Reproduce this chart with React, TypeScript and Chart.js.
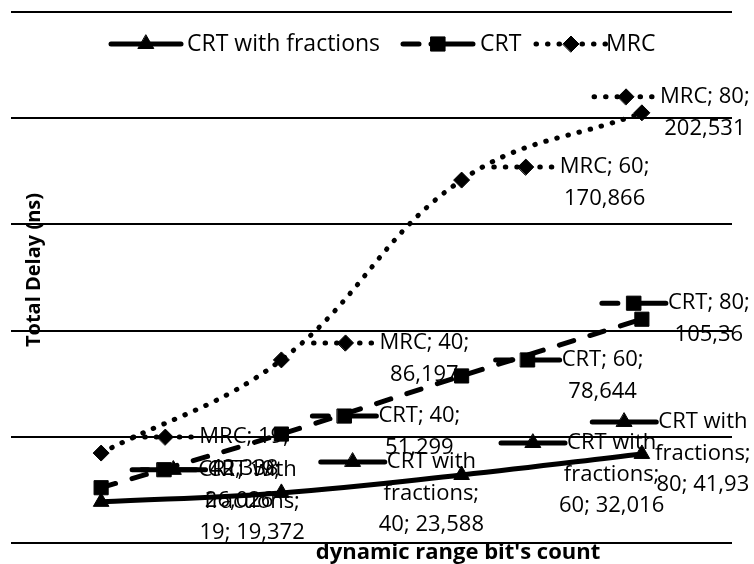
import React, { useEffect, useRef } from "react";
import { Chart, registerables } from "chart.js";

Chart.register(...registerables);

// Dynamic range bit counts (x categories)
const categories = ["19", "40", "60", "80"];

// Total delay in ns for each method
const crtFractionsDelay = [19.372, 23.588, 32.016, 41.93];
const crtDelay = [26.026, 51.299, 78.644, 105.36];
const mrcDelay = [42.338, 86.197, 170.866, 202.531];

const seriesNames = ["CRT with fractions", "CRT", "MRC"];

// Value axis range and grid step (ns)
const yMin = 0;
const yMax = 250;
const yStep = 50;

const xTitle = "dynamic range bit's count";
const yTitle = "Total Delay (ns)";

const seriesValues = [crtFractionsDelay, crtDelay, mrcDelay];

// ---- layout and style ----
const FONT = '"Open Sans", "DejaVu Sans", sans-serif';
const LABEL_PX = 22;
const LINE_H = 31.5;
const KEY_W = 64;
const WRAP_W = 125;

// data label text block: [centre dx, first line dy] from its point
const labelPlacement = [
  [[151, -32], [150, -31], [150, -32], [61, -32]],
  [[138, -18], [138, -18], [141, -16], [67, -16]],
  [[143, -16], [143, -17], [143, -13], [63, -16]],
];

// legend entries: [key start x, text start x]
const legendSlots = [
  [111, 187],
  [403, 480],
  [536, 606],
];
const LEGEND_Y = 44;

const seriesStyles = [
  { dash: [] as number[], keyDash: [] as number[], marker: "triangle", radius: 9, width: 5 },
  { dash: [15, 17], keyDash: [16, 12, 80], marker: "rect", radius: 10, width: 5 },
  { dash: [0.5, 11], keyDash: [0.5, 11], marker: "rectRot", radius: 8, width: 5 },
];

const fmt = (v: number) => String(v).replace(".", ",");

function drawMarker(ctx: CanvasRenderingContext2D, style: string, r: number, x: number, y: number) {
  ctx.beginPath();
  if (style === "triangle") {
    let rad = 0;
    ctx.moveTo(x + Math.sin(rad) * r, y - Math.cos(rad) * r);
    rad += (2 * Math.PI) / 3;
    ctx.lineTo(x + Math.sin(rad) * r, y - Math.cos(rad) * r);
    rad += (2 * Math.PI) / 3;
    ctx.lineTo(x + Math.sin(rad) * r, y - Math.cos(rad) * r);
    ctx.closePath();
  } else if (style === "rect") {
    const s = Math.SQRT1_2 * r;
    ctx.rect(x - s, y - s, 2 * s, 2 * s);
  } else {
    ctx.moveTo(x - r, y);
    ctx.lineTo(x, y - r);
    ctx.lineTo(x + r, y);
    ctx.lineTo(x, y + r);
    ctx.closePath();
  }
  ctx.fillStyle = "#000";
  ctx.fill();
  ctx.lineWidth = 1;
  ctx.strokeStyle = "#000";
  ctx.stroke();
}

function drawKey(ctx: CanvasRenderingContext2D, si: number, x1: number, x2: number, y: number) {
  const st = seriesStyles[si];
  ctx.save();
  ctx.strokeStyle = "#000";
  ctx.lineWidth = st.width;
  ctx.lineCap = "round";
  ctx.setLineDash(st.keyDash);
  ctx.beginPath();
  ctx.moveTo(x1, y);
  ctx.lineTo(x2, y);
  ctx.stroke();
  ctx.setLineDash([]);
  drawMarker(ctx, st.marker, st.radius, (x1 + x2) / 2, y);
  ctx.restore();
}

function wrap(ctx: CanvasRenderingContext2D, text: string, maxW: number) {
  const words = text.split(" ");
  const lines: string[] = [];
  let cur = "";
  for (const w of words) {
    const t = cur ? cur + " " + w : w;
    if (cur && ctx.measureText(t).width > maxW) {
      lines.push(cur);
      cur = w;
    } else cur = t;
  }
  if (cur) lines.push(cur);
  return lines;
}

const overlayPlugin = {
  id: "overlay",
  afterDatasetsDraw(chart: any) {
    const ctx: CanvasRenderingContext2D = chart.ctx;
    ctx.save();

    // data labels with legend keys
    seriesValues.forEach((vals, si) => {
      const meta = chart.getDatasetMeta(si);
      meta.data.forEach((pt: any, i: number) => {
        const [dx, dy] = labelPlacement[si][i];
        ctx.font = `${LABEL_PX}px ${FONT}`;
        const lines = wrap(ctx, `${seriesNames[si]}; ${categories[i]}; ${fmt(vals[i])}`, WRAP_W);
        const cx = pt.x + dx;
        const y0 = pt.y + dy;
        const left = cx - ctx.measureText(lines[0]).width / 2;
        drawKey(ctx, si, left - 2 - KEY_W, left - 2, y0);
        ctx.font = `${LABEL_PX}px ${FONT}`;
        ctx.fillStyle = "#000";
        ctx.textAlign = "center";
        ctx.textBaseline = "middle";
        lines.forEach((ln, k) => ctx.fillText(ln, cx, y0 + k * LINE_H));
      });
    });

    // legend
    seriesNames.forEach((name, si) => {
      const [kx, tx] = legendSlots[si];
      drawKey(ctx, si, kx, kx + 70, LEGEND_Y);
      ctx.font = `23px ${FONT}`;
      ctx.fillStyle = "#000";
      ctx.textAlign = "left";
      ctx.textBaseline = "middle";
      ctx.fillText(name, tx, LEGEND_Y);
    });

    // axis titles
    ctx.fillStyle = "#000";
    ctx.textAlign = "center";
    ctx.textBaseline = "middle";
    ctx.font = `bold 22px ${FONT}`;
    ctx.fillText(xTitle, 458, 553);
    ctx.font = `bold 20px ${FONT}`;
    ctx.translate(34, 270);
    ctx.rotate(-Math.PI / 2);
    ctx.fillText(yTitle, 0, 0);

    ctx.restore();
  },
};

export default function App() {
  const ref = useRef<HTMLCanvasElement>(null);

  useEffect(() => {
    if (!ref.current) return;
    const chart = new Chart(ref.current, {
      type: "line",
      data: {
        labels: categories,
        datasets: seriesValues.map((vals, i) => {
          const st = seriesStyles[i];
          return {
            label: seriesNames[i],
            data: vals,
            borderColor: "#000",
            backgroundColor: "#000",
            borderWidth: st.width,
            borderDash: st.dash,
            borderCapStyle: "round",
            borderJoinStyle: "round",
            tension: 0.4,
            fill: false,
            pointStyle: st.marker,
            pointRadius: st.radius,
            pointBorderWidth: 1,
            pointBackgroundColor: "#000",
            pointBorderColor: "#000",
          } as any;
        }),
      },
      options: {
        responsive: false,
        devicePixelRatio: 1,
        animation: false,
        layout: { padding: { left: 10, right: 22, top: 12, bottom: 21 } },
        plugins: { legend: { display: false }, tooltip: { enabled: false } },
        scales: {
          x: { type: "category", display: false, offset: true },
          y: {
            min: yMin,
            max: yMax,
            ticks: { display: false, stepSize: yStep },
            grid: { color: "#000", lineWidth: 2, drawTicks: false },
            border: { display: false },
          },
        },
      },
      plugins: [overlayPlugin],
    });
    return () => chart.destroy();
  }, []);

  return (
    <div style={{ position: "fixed", left: 0, top: 0, width: 754, height: 564, background: "#fff" }}>
      <canvas ref={ref} width={754} height={564} style={{ display: "block" }} />
    </div>
  );
}
